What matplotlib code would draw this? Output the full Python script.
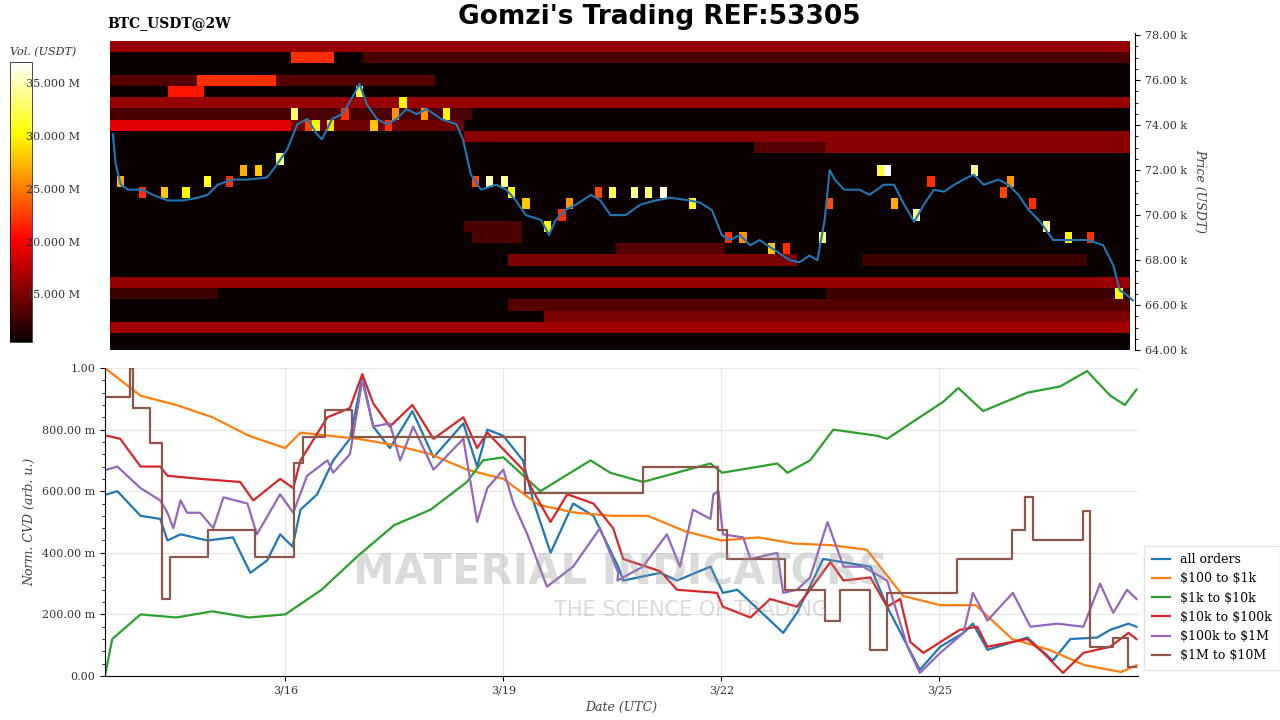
import numpy as np
import matplotlib
matplotlib.use("Agg")
import matplotlib.pyplot as plt

# ---------------- data ----------------
# time in days since 3/13 00:00 (UTC)
price_t = [0.59,0.63,0.70,0.80,1.01,1.14,1.35,1.56,1.76,1.90,2.04,2.24,2.45,2.72,2.86,3.00,3.14,3.28,3.41,3.48,
           3.62,3.76,3.89,4.00,4.10,4.24,4.38,4.51,4.65,4.79,4.93,5.13,5.34,5.43,5.54,5.68,5.89,6.03,6.16,6.30,
           6.51,6.62,6.71,6.85,6.99,7.20,7.33,7.47,7.68,7.88,8.09,8.30,8.57,8.71,8.87,9.01,9.12,9.26,9.40,9.53,
           9.74,9.95,10.08,10.22,10.33,10.43,10.50,10.57,10.70,10.91,11.05,11.25,11.39,11.53,11.67,11.80,11.94,
           12.08,12.22,12.35,12.49,12.63,12.83,12.97,13.11,13.25,13.39,13.59,13.73,13.87,14.07,14.28,14.42,14.51,14.62,14.69]
price_k = [73.6,72.25,71.35,71.13,71.13,70.9,70.65,70.65,70.77,70.9,71.35,71.58,71.58,71.67,72.25,72.92,74.04,74.27,73.6,73.37,
           74.27,74.49,75.17,75.84,74.94,74.27,74.04,74.27,74.72,74.49,74.72,74.27,74.04,73.37,71.8,71.13,71.35,71.13,70.65,70.0,
           69.78,69.11,69.78,70.23,70.46,70.9,70.65,70.0,70.0,70.46,70.65,70.77,70.65,70.55,70.23,69.11,68.89,69.11,68.66,68.89,
           68.44,67.99,67.9,68.2,67.99,69.78,72.0,71.58,71.13,71.13,70.9,71.35,71.35,70.46,69.7,70.46,71.13,
           71.04,71.35,71.58,71.8,71.35,71.58,71.35,70.9,70.23,69.78,68.89,68.89,68.89,68.89,68.66,67.77,66.65,66.42,66.2]

# resting liquidity bands: (price level k, start day, end day, volume M)
band_price = [77.75,77.0,77.0,76.0,76.0,75.5,75.0,74.5,74.0,74.0,73.5,73.0,73.0,69.5,69.0,68.5,68.0,68.0,67.0,66.5,66.5,66.0,65.5,65.0]
band_t0    = [0.55, 3.0,  4.0,  0.55, 1.75, 1.3,  0.55, 0.55, 0.55, 3.0,  5.4,  9.5,  10.5, 5.4,  5.5,  7.5,  6.0,  11.0, 0.55, 0.55, 10.5, 6.0,  6.5,  0.55]
band_t1    = [14.7, 3.6,  14.7, 5.0,  2.8,  1.8,  14.7, 5.5,  3.0,  5.4,  14.7, 14.7, 14.7, 6.2,  6.2,  9.0,  10.0, 14.0, 14.7, 2.0,  14.7, 14.7, 14.7, 14.7]
band_vol   = [16,   22,   13,   13.5, 22,   21,   16,   13,   19,   14.5, 15.5, 13.5, 15.5, 13,   13,   13.5, 15,   12.5, 16,   12.5, 12.5, 13.5, 15,   16.5]

# large orders near price: (day, price k, volume M)
hot_t = [0.7,1.3,1.6,1.9,2.35,2.6,2.9,3.1,3.4,3.6,3.95,4.2,4.5,4.6,4.9,5.2,5.8,6.0,6.1,6.3,6.6,6.9,7.5,7.8,8.0,8.2,8.6,9.3,9.7,10.4,11.2,11.3,11.4,11.7,12.5,13.0,13.5,13.8,14.5,
         1.0,2.2,3.3,3.8,4.4,5.6,6.8,7.3,9.1,9.9,10.5,11.9,12.9,13.3,14.1]
hot_p = [71.5,71.0,71.0,71.5,71.8,71.8,72.5,74.3,73.8,74.0,75.5,74.0,74.5,74.8,74.5,74.5,71.5,71.5,71.0,70.3,69.5,70.5,71.0,71.0,71.0,71.0,70.5,69.0,68.5,68.8,71.8,71.8,70.6,69.8,72.0,71.5,69.5,69.0,66.5,
         71.0,71.3,74.0,74.5,73.8,71.5,70.0,71.0,69.0,68.3,70.6,71.3,71.0,70.3,68.8]
hot_v = [27,28,30,31,27,28,33,33,30,29,32,28,26,30,26,30,35,34,30,28,30,26,32,34,33,36,31,26,28,33,32,37,27,34,34,26,34,30,30,
         22,22,23,22,22,23,22,23,22,22,23,22,23,22,22]

# normalized CVD series
blue_t = [0.55,0.69,1.01,1.28,1.38,1.56,1.93,2.28,2.52,2.75,2.93,3.10,3.21,3.44,3.66,3.89,4.06,4.21,4.44,4.75,5.04,5.45,5.64,5.78,6.00,6.27,6.41,6.65,6.96,7.24,7.58,
          7.65,8.16,8.39,8.85,9.02,9.22,9.85,10.04,10.40,11.05,11.28,11.73,12.01,12.33,12.46,12.66,13.21,13.56,13.80,14.17,14.35,14.60,14.71]
blue_v = [0.59,0.60,0.52,0.51,0.44,0.46,0.44,0.45,0.335,0.375,0.46,0.42,0.54,0.59,0.70,0.77,0.97,0.81,0.74,0.86,0.71,0.82,0.68,0.80,0.78,0.70,0.57,0.40,0.56,0.52,0.355,
          0.31,0.335,0.31,0.355,0.27,0.28,0.14,0.205,0.38,0.355,0.225,0.02,0.095,0.14,0.17,0.085,0.125,0.05,0.12,0.125,0.15,0.17,0.16]
orange_t = [0.52,1.01,1.50,2.00,2.50,3.00,3.21,4.00,4.50,5.00,5.50,6.00,6.49,7.00,7.50,7.99,8.50,9.00,9.51,10.00,10.50,11.00,11.50,12.01,12.50,13.00,13.51,14.00,14.50,14.71]
orange_v = [1.0,0.91,0.88,0.84,0.78,0.74,0.79,0.77,0.75,0.72,0.67,0.64,0.555,0.53,0.52,0.52,0.47,0.44,0.45,0.43,0.425,0.41,0.26,0.23,0.23,0.12,0.085,0.035,0.013,0.035]
green_t = [0.52,0.62,1.01,1.50,2.00,2.50,3.00,3.50,4.00,4.50,5.00,5.50,5.72,6.00,6.51,7.20,7.47,7.92,8.85,9.01,9.77,9.91,10.22,10.54,11.14,11.28,11.60,12.05,12.26,12.60,13.21,13.66,14.03,14.35,14.55,14.71]
green_v = [0.0,0.12,0.20,0.19,0.21,0.19,0.20,0.28,0.39,0.49,0.54,0.63,0.70,0.71,0.60,0.70,0.66,0.63,0.69,0.66,0.69,0.66,0.70,0.80,0.78,0.77,0.82,0.89,0.935,0.86,0.92,0.94,0.99,0.91,0.88,0.93]
red_t = [0.55,0.73,1.01,1.28,1.38,1.83,2.38,2.56,2.93,3.11,3.21,3.58,3.89,4.06,4.21,4.44,4.75,5.04,5.45,5.64,5.78,6.27,6.41,6.65,6.88,7.24,7.51,
         7.65,8.16,8.39,8.94,9.02,9.40,9.67,10.04,10.22,10.50,10.68,11.05,11.28,11.46,11.60,11.78,12.01,12.28,12.52,12.66,13.21,13.43,13.70,13.98,14.35,14.60,14.71]
red_v = [0.78,0.77,0.68,0.68,0.65,0.64,0.63,0.57,0.64,0.61,0.70,0.84,0.87,0.98,0.885,0.81,0.88,0.77,0.84,0.74,0.79,0.67,0.60,0.50,0.59,0.56,0.48,
         0.38,0.34,0.28,0.27,0.225,0.19,0.25,0.225,0.28,0.37,0.31,0.32,0.225,0.25,0.11,0.075,0.11,0.15,0.16,0.095,0.12,0.075,0.01,0.075,0.095,0.14,0.12]
purple_t = [0.55,0.69,1.01,1.28,1.38,1.46,1.56,1.65,1.83,2.01,2.15,2.48,2.61,2.93,3.11,3.30,3.58,3.66,3.89,4.06,4.21,4.44,4.58,4.76,5.04,5.45,5.64,5.78,6.00,6.14,6.33,6.60,6.96,7.33,7.58,
            7.57,7.92,8.25,8.43,8.61,8.85,8.89,8.96,9.02,9.30,9.40,9.77,9.85,10.04,10.22,10.46,10.68,10.95,11.28,11.56,11.73,12.01,12.33,12.46,12.66,13.01,13.25,13.62,13.98,14.21,14.39,14.58,14.71]
purple_v = [0.67,0.68,0.61,0.57,0.53,0.48,0.57,0.53,0.53,0.48,0.58,0.56,0.46,0.59,0.53,0.65,0.70,0.66,0.72,0.96,0.81,0.82,0.70,0.81,0.67,0.77,0.50,0.61,0.67,0.56,0.46,0.29,0.355,0.48,0.335,
            0.31,0.355,0.46,0.355,0.54,0.51,0.59,0.60,0.46,0.45,0.38,0.40,0.27,0.28,0.32,0.50,0.355,0.355,0.31,0.095,0.01,0.075,0.14,0.27,0.18,0.27,0.16,0.17,0.16,0.30,0.205,0.28,0.25]
brown_t = [0.52,0.87,0.91,1.14,1.31,1.42,1.94,2.59,3.12,3.25,3.55,3.92,6.30,7.92,8.96,9.08,9.88,10.43,10.63,11.05,11.28,12.24,13.00,13.18,13.28,13.98,14.07,14.39,14.60,14.71]
brown_v = [0.905,1.0,0.87,0.755,0.25,0.385,0.475,0.385,0.69,0.775,0.865,0.775,0.595,0.68,0.475,0.38,0.28,0.18,0.28,0.085,0.27,0.38,0.475,0.58,0.44,0.535,0.095,0.125,0.03,0.03]

series = [(r"all orders", blue_t, blue_v, "#1f77b4", False),
          (r"\$100 to \$1k", orange_t, orange_v, "#ff7f0e", False),
          (r"\$1k to \$10k", green_t, green_v, "#2ca02c", False),
          (r"\$10k to \$100k", red_t, red_v, "#d62728", False),
          (r"\$100k to \$1M", purple_t, purple_v, "#9467bd", False),
          (r"\$1M to \$10M", brown_t, brown_v, "#8c564b", True)]

date_ticks = [3, 6, 9, 12]
date_labels = ["3/16", "3/19", "3/22", "3/25"]
price_ticks = [64, 66, 68, 70, 72, 74, 76, 78]
cvd_ticks = [0, 0.2, 0.4, 0.6, 0.8, 1.0]
cvd_labels = ["0.00", "200.00 m", "400.00 m", "600.00 m", "800.00 m", "1.00"]
vol_ticks = [15, 20, 25, 30, 35]

# ---------------- figure ----------------
plt.rcParams['font.family'] = ['DejaVu Serif']
fig = plt.figure(figsize=(12.8, 7.2), dpi=100)
tmin, tmax = 0.52, 14.73

ax1 = fig.add_axes([0.0859, 0.5139, 0.8008, 0.4403])
tedges = np.arange(0.55, 14.75, 0.1)
pedges = np.arange(63.75, 78.01, 0.5)
Z = np.full((len(pedges) - 1, len(tedges) - 1), 10.5)
tc = 0.5 * (tedges[:-1] + tedges[1:])
for p, a, b, v in zip(band_price, band_t0, band_t1, band_vol):
    i = min(int((p - 63.75) / 0.5), Z.shape[0] - 1)
    m = (tc >= a) & (tc <= b)
    Z[i, m] = v
for t, p, v in zip(hot_t, hot_p, hot_v):
    i = min(int((p - 63.75) / 0.5), Z.shape[0] - 1)
    j = min(int((t - 0.55) / 0.1), Z.shape[1] - 1)
    Z[i, j] = max(Z[i, j], v)
mesh = ax1.pcolormesh(tedges, pedges, Z, cmap="hot", vmin=10.5, vmax=37, shading="flat")
ax1.plot(price_t, price_k, color="#1f77b4", lw=1.5)
ax1.set_xlim(0.55, 14.72)
ax1.set_ylim(64, 78.1)
ax1.set_xticks([])
ax1.yaxis.tick_right()
ax1.yaxis.set_label_position("right")
ax1.set_yticks(price_ticks)
ax1.set_yticklabels([f"{p:.2f} k" for p in price_ticks], fontsize=8, color="#333333")
ax1.set_yticks(np.arange(64, 78.01, 0.5), minor=True)
ax1.set_ylabel("Price (USDT)", fontsize=9, style="italic", color="#444444", rotation=270, labelpad=14)
for s in ax1.spines.values():
    s.set_visible(False)
ax1.spines["right"].set_visible(True)

cax = fig.add_axes([0.0078, 0.525, 0.0172, 0.389])
cb = fig.colorbar(mesh, cax=cax)
cb.set_ticks(vol_ticks)
cb.set_ticklabels([f"{v:.3f} M" for v in vol_ticks])
cax.tick_params(labelsize=8, length=0, pad=-4, labelcolor="#333333")
cb.outline.set_linewidth(0.5)
fig.text(0.008, 0.923, "Vol. (USDT)", fontsize=8, style="italic", color="#333333")

fig.text(0.084, 0.963, "BTC_USDT@2W", fontsize=10, fontweight="bold", family="DejaVu Serif")
fig.text(0.515, 0.977, "Gomzi's Trading REF:53305", fontsize=19, fontweight="bold",
         family="DejaVu Sans", ha="center", va="center")

ax2 = fig.add_axes([0.082, 0.0611, 0.807, 0.4278])
for name, t, v, c, step in series:
    if step:
        ax2.step(t, v, where="post", color=c, lw=1.6, label=name)
    else:
        ax2.plot(t, v, color=c, lw=1.6, label=name)
ax2.set_xlim(tmin, tmax)
ax2.set_ylim(0, 1.0)
ax2.set_xticks(date_ticks)
ax2.set_xticklabels(date_labels, fontsize=8, color="#333333")
ax2.set_yticks(cvd_ticks)
ax2.set_yticklabels(cvd_labels, fontsize=8, color="#333333")
ax2.set_yticks(np.arange(0, 1.001, 0.04), minor=True)
ax2.grid(True, color="#e6e6e6", lw=0.8)
ax2.set_axisbelow(True)
ax2.set_xlabel("Date (UTC)", fontsize=9, style="italic", color="#444444")
ax2.set_ylabel("Norm. CVD (arb. u.)", fontsize=9, style="italic", color="#444444")
for k in ["top", "right"]:
    ax2.spines[k].set_visible(False)
leg = ax2.legend(loc="lower left", bbox_to_anchor=(1.0, 0.0), fontsize=9, frameon=True,
                 fancybox=False, edgecolor="#dddddd", handlelength=1.5, borderpad=0.6, labelspacing=0.5)

fig.text(0.485, 0.205, "MATERIAL INDICATORS", fontsize=30, fontweight="bold", family="DejaVu Sans",
         color="#999999", alpha=0.35, ha="center", va="center")
fig.text(0.54, 0.153, "THE SCIENCE OF TRADING", fontsize=15, family="DejaVu Sans",
         color="#999999", alpha=0.35, ha="center", va="center")

fig.savefig("out.png", dpi=100)
